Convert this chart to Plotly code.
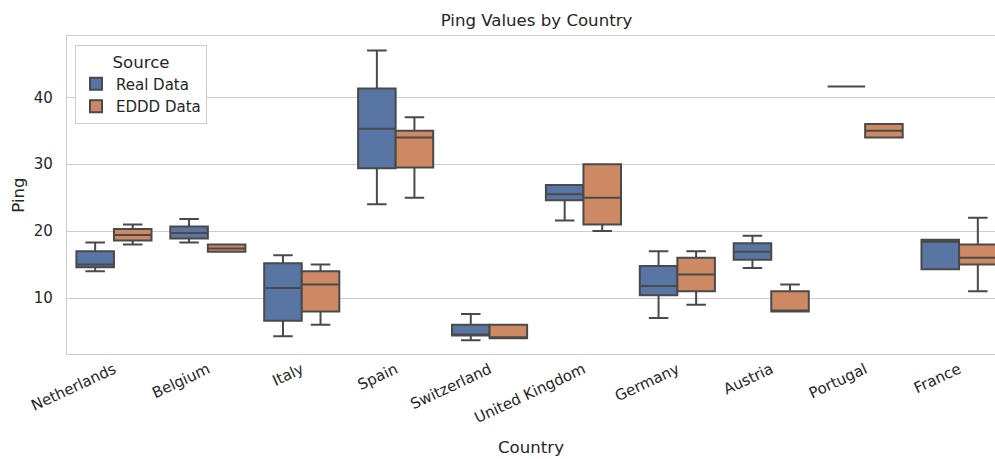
import plotly.graph_objects as go

# Categories and per-source box statistics (ms)
countries = ["Netherlands", "Belgium", "Italy", "Spain", "Switzerland",
             "United Kingdom", "Germany", "Austria", "Portugal", "France"]

real_lower = [14.0, 18.3, 4.3, 24.0, 3.7, 21.6, 7.0, 14.5, 41.6, 14.3]
real_q1 = [14.6, 18.9, 6.6, 29.4, 4.4, 24.6, 10.4, 15.7, 41.6, 14.3]
real_median = [15.0, 19.7, 11.5, 35.3, 4.4, 25.5, 11.8, 16.9, 41.6, 18.4]
real_q3 = [17.0, 20.7, 15.2, 41.3, 6.0, 26.9, 14.8, 18.2, 41.6, 18.7]
real_upper = [18.3, 21.8, 16.4, 47.0, 7.6, 26.9, 17.0, 19.3, 41.6, 18.7]

eddd_lower = [18.0, 16.9, 6.0, 25.0, 4.0, 20.0, 9.0, 8.0, 34.0, 11.0]
eddd_q1 = [18.6, 16.9, 8.0, 29.5, 4.0, 21.0, 11.0, 8.0, 34.0, 15.0]
eddd_median = [19.4, 17.4, 12.0, 34.0, 4.0, 25.0, 13.5, 8.0, 35.0, 16.0]
eddd_q3 = [20.3, 18.0, 14.0, 35.0, 6.0, 30.0, 16.0, 11.0, 36.0, 18.0]
eddd_upper = [21.0, 18.0, 15.0, 37.0, 6.0, 30.0, 17.0, 12.0, 36.0, 22.0]

y_ticks = [10, 20, 30, 40]

TEXT = "#262626"
GRID = "#cccccc"
EDGE = "#4a4a4a"
BLUE = "#5875a4"
ORANGE = "#cc8963"
FONT = "DejaVu Sans"

fig = go.Figure()
for name, lo, q1, med, q3, hi, col in [
    ("Real Data", real_lower, real_q1, real_median, real_q3, real_upper, BLUE),
    ("EDDD Data", eddd_lower, eddd_q1, eddd_median, eddd_q3, eddd_upper, ORANGE),
]:
    fig.add_trace(go.Box(
        name=name, x=countries, q1=q1, median=med, q3=q3,
        lowerfence=lo, upperfence=hi, boxpoints=False,
        fillcolor=col, line=dict(color=EDGE, width=2),
        whiskerwidth=0.52, hoverinfo="skip",
    ))

fig.update_layout(
    width=995, height=459,
    margin=dict(l=67, r=0, t=36, b=105),
    paper_bgcolor="white", plot_bgcolor="white",
    font=dict(family=FONT, size=15, color=TEXT),
    boxmode="group", boxgap=0.2, boxgroupgap=0,
    title=dict(text="Ping Values by Country", x=(536.5) / 995, xanchor="center",
               y=1 - 20 / 459, yanchor="middle",
               font=dict(size=16.6, color=TEXT, family=FONT)),
    legend=dict(
        title=dict(text="Source", side="top center", font=dict(size=16.6, color=TEXT)),
        x=8 / 928, y=1 - 9 / 318, xanchor="left", yanchor="top",
        bgcolor="white", bordercolor=GRID, borderwidth=1,
        font=dict(size=15, color=TEXT), traceorder="normal",
    ),
    showlegend=True,
)

fig.update_xaxes(
    type="category", categoryorder="array", categoryarray=countries,
    range=[-0.5, 9.5 - 11 / 93.9],
    showgrid=False, showline=True, linecolor=GRID, linewidth=1.3, mirror=True,
    ticks="", tickangle=-25, tickfont=dict(size=15, color=TEXT),
    title=dict(text="Country", font=dict(size=16.6, color=TEXT), standoff=15),
    zeroline=False,
)
fig.update_yaxes(
    range=[1.63, 49.16], tickvals=y_ticks, ticktext=[str(t) for t in y_ticks],
    showgrid=True, gridcolor=GRID, gridwidth=1.3,
    showline=True, linecolor=GRID, linewidth=1.3,
    ticks="", ticklabelstandoff=10, tickfont=dict(size=15, color=TEXT),
    title=dict(text="Ping", font=dict(size=16.6, color=TEXT), standoff=4),
    zeroline=False,
)

fig.write_html("out.html")
